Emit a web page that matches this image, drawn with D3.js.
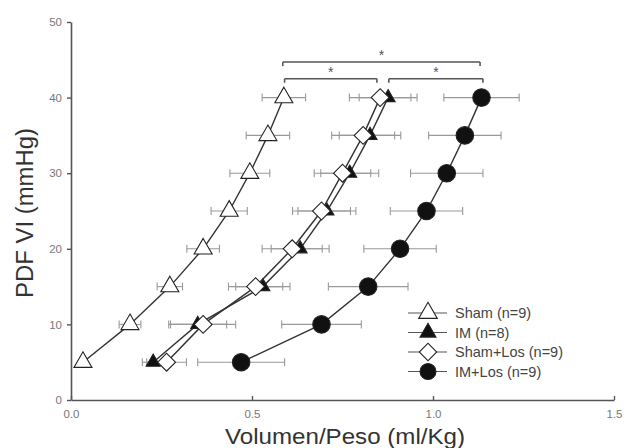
<!DOCTYPE html>
<html><head><meta charset="utf-8">
<script src="https://cdn.jsdelivr.net/npm/d3@7"></script>
<style>body{margin:0;background:#fff}svg{display:block}</style>
</head><body><svg id="c" width="638" height="448"></svg>
<script>
// ---- data ----
const pressures = [5, 10, 15, 20, 25, 30, 35, 40];
const shamX   = [0.033, 0.163, 0.273, 0.365, 0.437, 0.494, 0.544, 0.588];
const shamErr = [0.0, 0.03, 0.035, 0.045, 0.05, 0.055, 0.06, 0.06];
const imX     = [0.227, 0.350, 0.530, 0.633, 0.707, 0.770, 0.826, 0.876];
const imErr   = [0.03, 0.08, 0.075, 0.08, 0.08, 0.08, 0.085, 0.08];
const shamLosX   = [0.264, 0.365, 0.510, 0.611, 0.692, 0.750, 0.807, 0.854];
const shamLosErr = [0.055, 0.09, 0.075, 0.083, 0.08, 0.078, 0.087, 0.085];
const imLosX   = [0.470, 0.692, 0.821, 0.909, 0.982, 1.038, 1.088, 1.134];
const imLosErr = [0.12, 0.11, 0.11, 0.10, 0.10, 0.10, 0.10, 0.104];
const seriesNames = ["Sham (n=9)", "IM (n=8)", "Sham+Los (n=9)", "IM+Los (n=9)"];
const xTicks = [0, 0.5, 1.0, 1.5];
const yTicks = [0, 10, 20, 30, 40, 50];
// significance brackets: [x1, x2, y]
const brackets = [[0.585, 1.13, 44.7], [0.59, 0.845, 42.5], [0.878, 1.138, 42.5]];

// ---- layout ----
const FONT = "Liberation Sans, Arial, sans-serif";
const svg = d3.select("#c");
const x = d3.scaleLinear().domain([0, 1.5]).range([71, 614]);
const y = d3.scaleLinear().domain([0, 50]).range([400, 22]);

// axes
const xAxis = d3.axisBottom(x).tickValues(xTicks).tickFormat(d3.format(".1f")).tickSizeInner(-4).tickSizeOuter(0).tickPadding(10);
const gx = svg.append("g").attr("transform", "translate(0,400)").call(xAxis);
const yAxis = d3.axisLeft(y).tickValues(yTicks).tickFormat(d3.format("d")).tickSizeInner(4).tickSizeOuter(0).tickPadding(5);
const gy = svg.append("g").attr("transform", "translate(71,0)").call(yAxis);
[gx, gy].forEach(g => {
  g.select(".domain").attr("stroke", "#555").attr("stroke-width", 1.6);
  g.selectAll(".tick line").attr("stroke", "#555").attr("stroke-width", 1.4);
  g.selectAll(".tick text").attr("fill", "#777").attr("font-family", FONT).attr("font-size", 11.5);
});

// axis titles
svg.append("text").attr("x", 345).attr("y", 444).attr("text-anchor", "middle")
  .attr("font-family", FONT).attr("font-size", 22).attr("fill", "#333")
  .attr("textLength", 240).attr("lengthAdjust", "spacingAndGlyphs").text("Volumen/Peso (ml/Kg)");
svg.append("text").attr("transform", "translate(33,213) rotate(-90)").attr("text-anchor", "middle")
  .attr("font-family", FONT).attr("font-size", 23).attr("fill", "#333")
  .attr("textLength", 170).attr("lengthAdjust", "spacingAndGlyphs").text("PDF VI (mmHg)");

// series config
const series = [
  {xs: shamX, err: shamErr, sym: d3.symbolTriangle, size: 140, fill: "#fff", rot: 0},
  {xs: imX, err: imErr, sym: d3.symbolTriangle, size: 85, fill: "#111", rot: 0},
  {xs: shamLosX, err: shamLosErr, sym: d3.symbolSquare, size: 160, fill: "#fff", rot: 45},
  {xs: imLosX, err: imLosErr, sym: d3.symbolCircle, size: 240, fill: "#111", rot: 0}
];

const line = d3.line().x(d => x(d[0])).y(d => y(d[1]));

// error bars (behind everything)
series.forEach(s => {
  const g = svg.append("g").attr("stroke", "#999").attr("stroke-width", 1.1);
  s.xs.forEach((v, i) => {
    const e = s.err[i];
    if (e <= 0) return;
    const yy = y(pressures[i]);
    g.append("line").attr("x1", x(v - e)).attr("x2", x(v + e)).attr("y1", yy).attr("y2", yy);
    g.append("line").attr("x1", x(v - e)).attr("x2", x(v - e)).attr("y1", yy - 4).attr("y2", yy + 4);
    g.append("line").attr("x1", x(v + e)).attr("x2", x(v + e)).attr("y1", yy - 4).attr("y2", yy + 4);
  });
});

// lines and markers
series.forEach(s => {
  const pts = s.xs.map((v, i) => [v, pressures[i]]);
  svg.append("path").attr("d", line(pts)).attr("fill", "none").attr("stroke", "#333").attr("stroke-width", 1.4);
  svg.append("g").selectAll("path").data(pts).join("path")
    .attr("d", d3.symbol().type(s.sym).size(s.size))
    .attr("transform", d => `translate(${x(d[0])},${y(d[1])}) rotate(${s.rot})`)
    .attr("fill", s.fill).attr("stroke", "#222").attr("stroke-width", 1.1);
});

// significance brackets
const bg = svg.append("g").attr("stroke", "#555").attr("stroke-width", 1.6);
brackets.forEach(b => {
  const yy = y(b[2]);
  bg.append("line").attr("x1", x(b[0])).attr("x2", x(b[1])).attr("y1", yy).attr("y2", yy);
  bg.append("line").attr("x1", x(b[0])).attr("x2", x(b[0])).attr("y1", yy).attr("y2", yy + 4);
  bg.append("line").attr("x1", x(b[1])).attr("x2", x(b[1])).attr("y1", yy).attr("y2", yy + 4);
  svg.append("text").attr("x", x((b[0] + b[1]) / 2)).attr("y", yy - 2).attr("text-anchor", "middle")
    .attr("font-family", FONT).attr("font-size", 14).attr("fill", "#555").text("*");
});

// legend
const legend = svg.append("g");
series.forEach((s, i) => {
  const ly = 313 + i * 19.5;
  legend.append("line").attr("x1", 408).attr("x2", 447).attr("y1", ly).attr("y2", ly).attr("stroke", "#555").attr("stroke-width", 1.1);
  legend.append("path").attr("d", d3.symbol().type(s.sym).size(i === 1 ? 110 : (i === 3 ? 200 : 150)))
    .attr("transform", `translate(428,${ly}) rotate(${s.rot})`)
    .attr("fill", s.fill).attr("stroke", "#222").attr("stroke-width", 1.1);
  legend.append("text").attr("x", 455).attr("y", ly + 5).attr("font-family", FONT)
    .attr("font-size", 14.5).attr("fill", "#444").text(seriesNames[i]);
});
</script></body></html>
